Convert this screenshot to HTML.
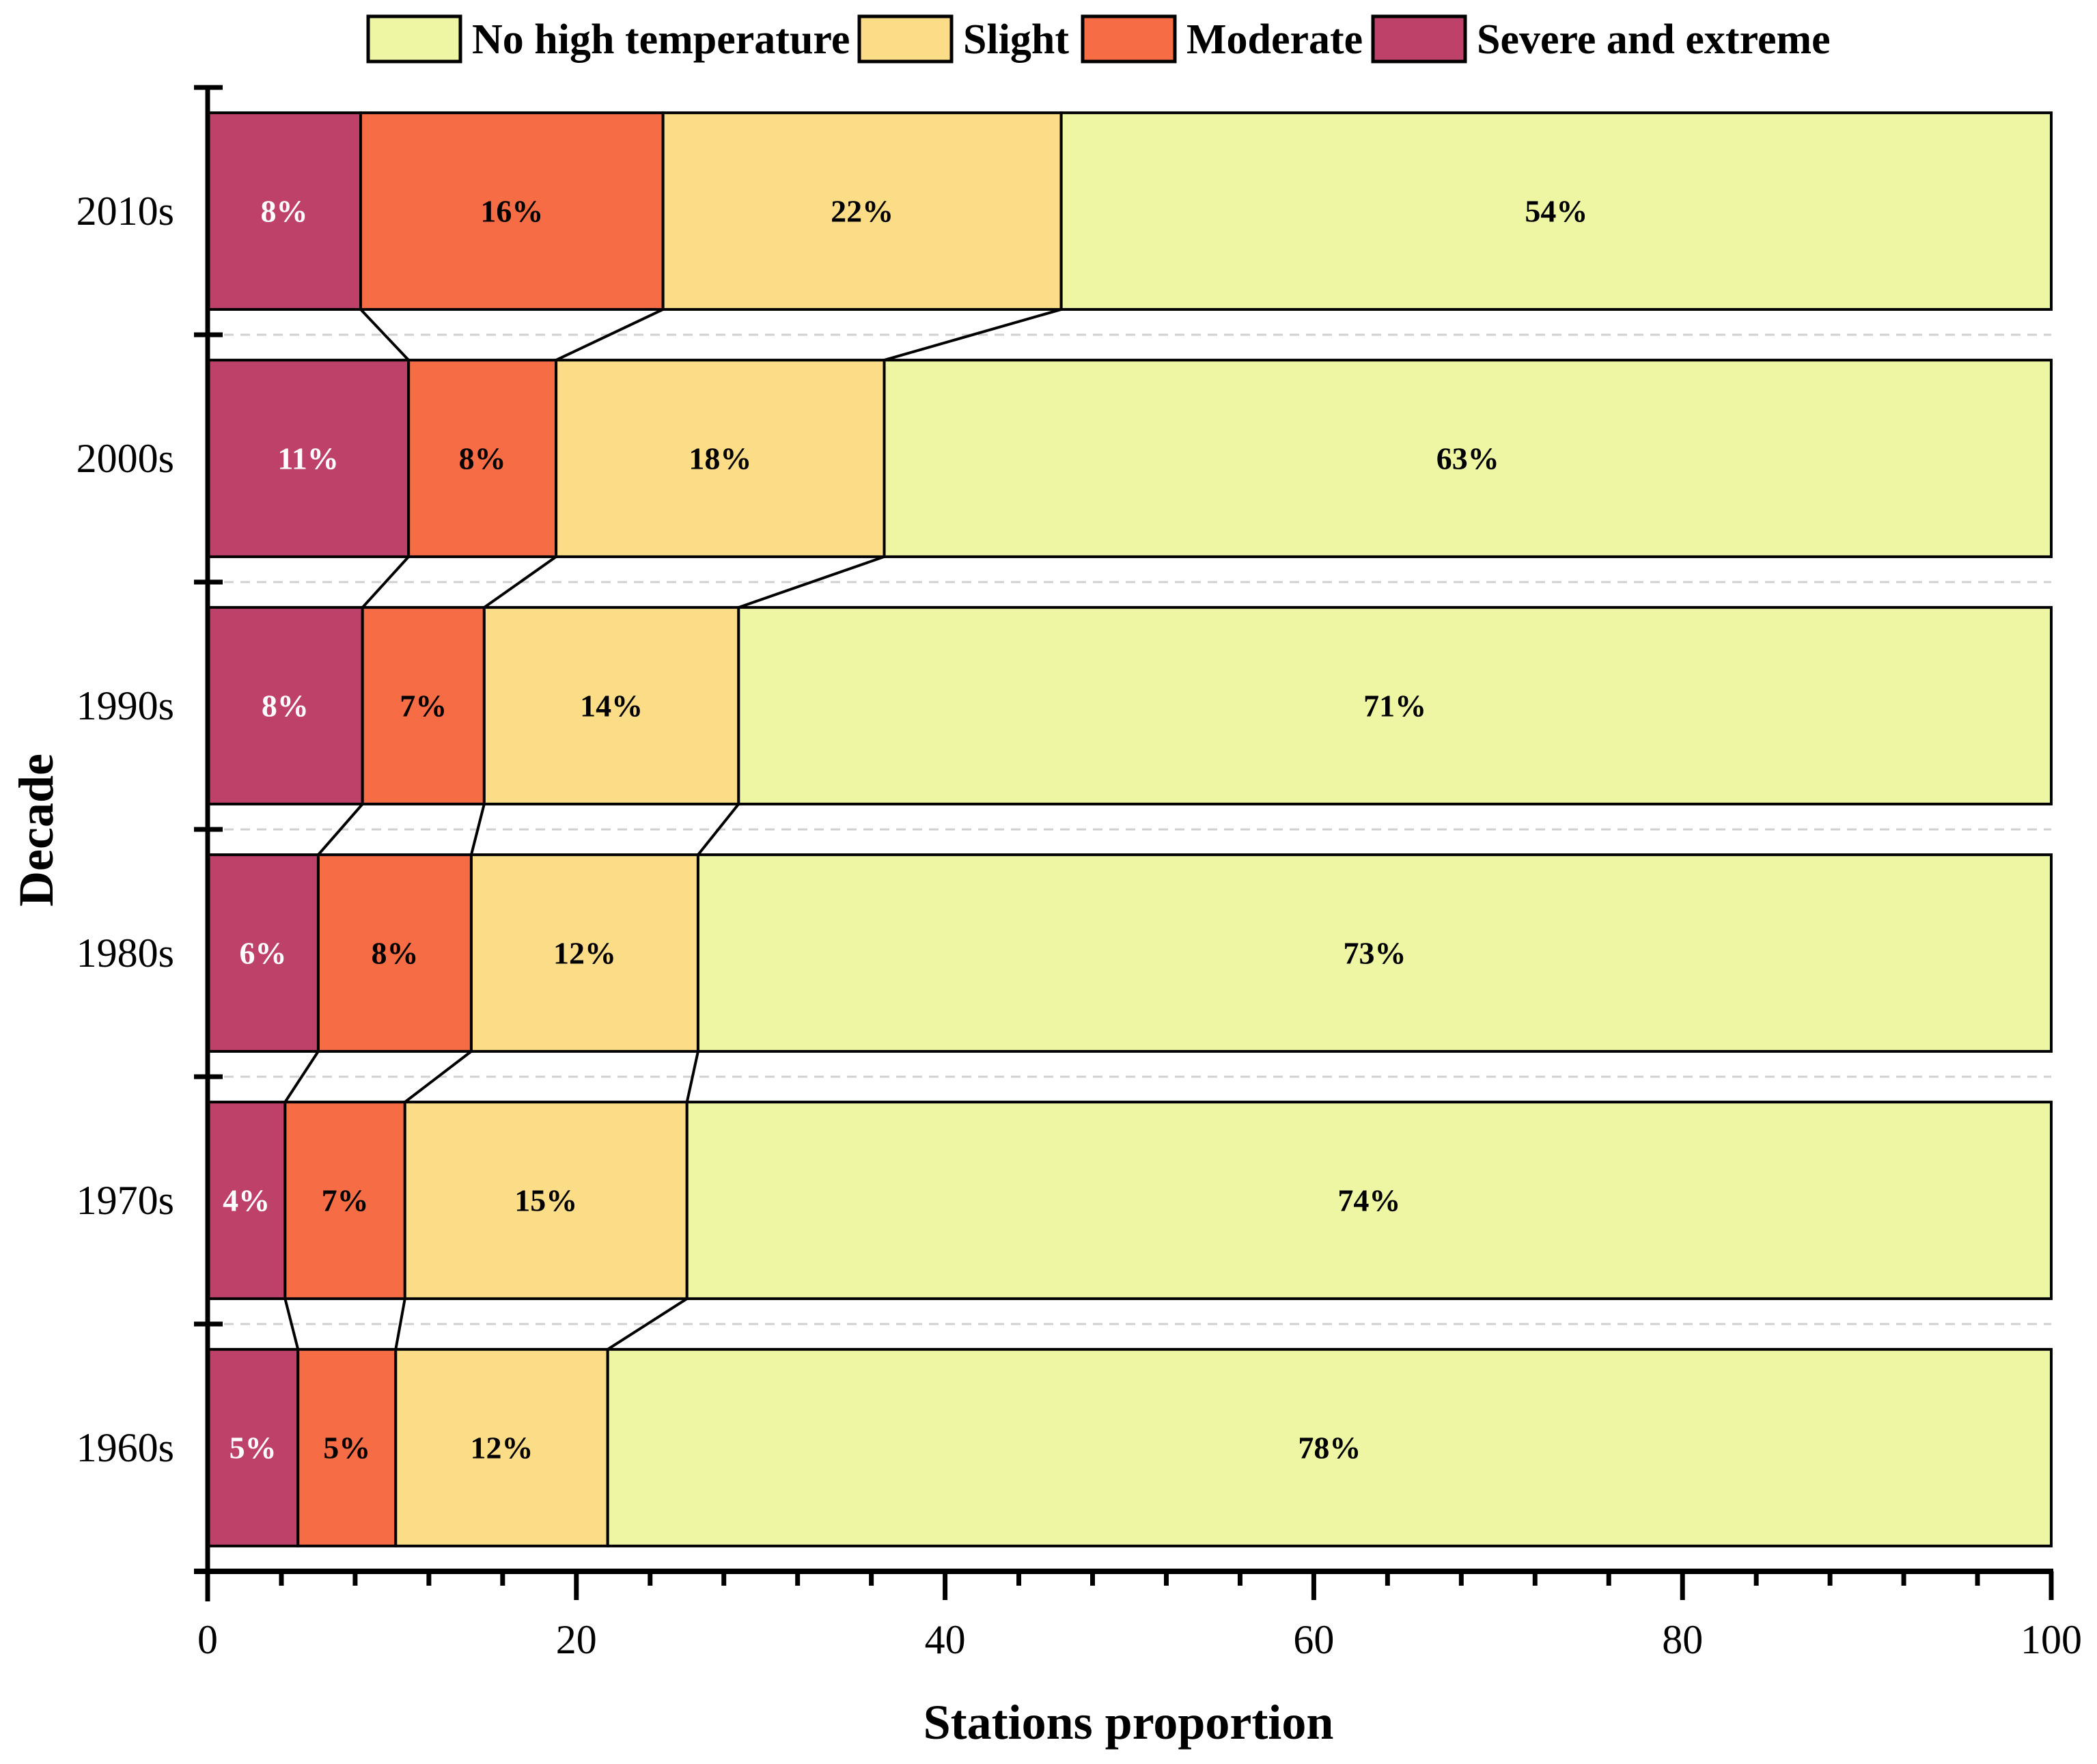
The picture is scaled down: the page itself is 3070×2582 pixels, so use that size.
<!DOCTYPE html>
<html><head><meta charset="utf-8"><style>
html,body{margin:0;padding:0;background:#fff;}
svg{display:block;font-family:"Liberation Serif",serif;}
</style></head><body>
<svg id="chart" width="3070" height="2582" viewBox="0 0 3070 2582">
<g id="legend"></g>
<g id="grid"></g>
<g id="connectors"></g>
<g id="bars"></g>
<g id="axes"></g>
<text x="53" y="1215" transform="rotate(-90 53 1215)" text-anchor="middle" dominant-baseline="central" font-size="72" font-weight="bold">Decade</text>
<text x="1652" y="2521" text-anchor="middle" dominant-baseline="central" font-size="72" font-weight="bold">Stations proportion</text>
</svg>
<script>
const categories = ["2010s","2000s","1990s","1980s","1970s","1960s"];
const seriesNames = ["Severe and extreme","Moderate","Slight","No high temperature"];
const severe   = [8.3, 10.9, 8.4, 6.0, 4.2, 4.9];
const moderate = [16.4, 8.0, 6.6, 8.3, 6.5, 5.3];
const slight   = [21.6, 17.8, 13.8, 12.3, 15.3, 11.5];
const noHigh   = [53.7, 63.3, 71.2, 73.4, 74.0, 78.3];
const xTicks = [0,20,40,60,80,100];

const colors = ["#BE416A","#F56C45","#FBDC87","#EFF6A3"];
const textColors = ["#fff","#000","#000","#000"];
const NS="http://www.w3.org/2000/svg";
const X0=304, X1=3003, Y0=128, Y1=2300;
const band=(Y1-Y0)/categories.length, barH=band*0.795;
const xs=v=>X0+(X1-X0)*v/100;
const yTop=i=>Y0+band*i+(band-barH)/2;
function mk(tag,attrs,parent){const e=document.createElementNS(NS,tag);for(const k in attrs)e.setAttribute(k,attrs[k]);parent.appendChild(e);return e;}
const series=[severe,moderate,slight,noHigh];
const gBars=document.getElementById('bars'),gCon=document.getElementById('connectors'),gGrid=document.getElementById('grid'),gAx=document.getElementById('axes'),gLeg=document.getElementById('legend');

for(let i=1;i<categories.length;i++){
  const y=Y0+band*i;
  const l=mk('line',{x1:X0,x2:X1,y1:y,y2:y,stroke:'#d0d0d0','stroke-width':3,'stroke-dasharray':'14 10'},gGrid);
  
  
}
const cums=[];
categories.forEach((c,i)=>{
  let acc=0;const cum=[];
  series.forEach((s,k)=>{
    const v=s[i];const x=xs(acc),w=xs(acc+v)-xs(acc);
    const r=mk('rect',{x:x,y:yTop(i),width:w,height:barH,fill:colors[k],stroke:'#000','stroke-width':4},gBars);
    
    
    const t=mk('text',{x:x+w/2,y:yTop(i)+barH/2,'text-anchor':'middle','dominant-baseline':'central','font-size':46,'font-weight':'bold',fill:textColors[k]},gBars);
    t.textContent=Math.round(v)+'%';
    
    
    acc+=v;cum.push(acc);
  });
  cums.push(cum);
  const lab=mk('text',{x:255,y:yTop(i)+barH/2,'text-anchor':'end','dominant-baseline':'central','font-size':60},gAx);
  lab.textContent=c;
  
  
});
for(let i=0;i<categories.length-1;i++){
  for(let k=0;k<3;k++){
    const l=mk('line',{x1:xs(cums[i][k]),y1:yTop(i)+barH,x2:xs(cums[i+1][k]),y2:yTop(i+1),stroke:'#000','stroke-width':4},gCon);
    
    
  }
}
let a=mk('line',{x1:X0,x2:X0,y1:Y0,y2:Y1+44,stroke:'#000','stroke-width':7},gAx);

a=mk('line',{x1:284,x2:X1+3,y1:Y1,y2:Y1,stroke:'#000','stroke-width':8},gAx);

for(let i=0;i<=categories.length;i++){
  const y=Y0+band*i;
  const t=mk('line',{x1:284,x2:326,y1:y,y2:y,stroke:'#000','stroke-width':7},gAx);
  
}
for(let v=0;v<=100;v+=4){
  const major=xTicks.includes(v);
  const t=mk('line',{x1:xs(v),x2:xs(v),y1:Y1,y2:Y1+(major?42:21),stroke:'#000','stroke-width':7},gAx);
  
}
xTicks.forEach(v=>{
  const t=mk('text',{x:xs(v),y:2400,'text-anchor':'middle','dominant-baseline':'central','font-size':60},gAx);
  t.textContent=v;
  
});
const legOrder=[3,2,1,0];
const legX=[539,1258,1585,2010];
legOrder.forEach((k,j)=>{
  const r=mk('rect',{x:legX[j],y:24,width:135,height:66,fill:colors[k],stroke:'#000','stroke-width':5},gLeg);
  
  const t=mk('text',{x:legX[j]+152,y:58,'dominant-baseline':'central','font-size':62,'font-weight':'bold'},gLeg);
  t.textContent=seriesNames[k];
  
});
</script>
</body></html>
